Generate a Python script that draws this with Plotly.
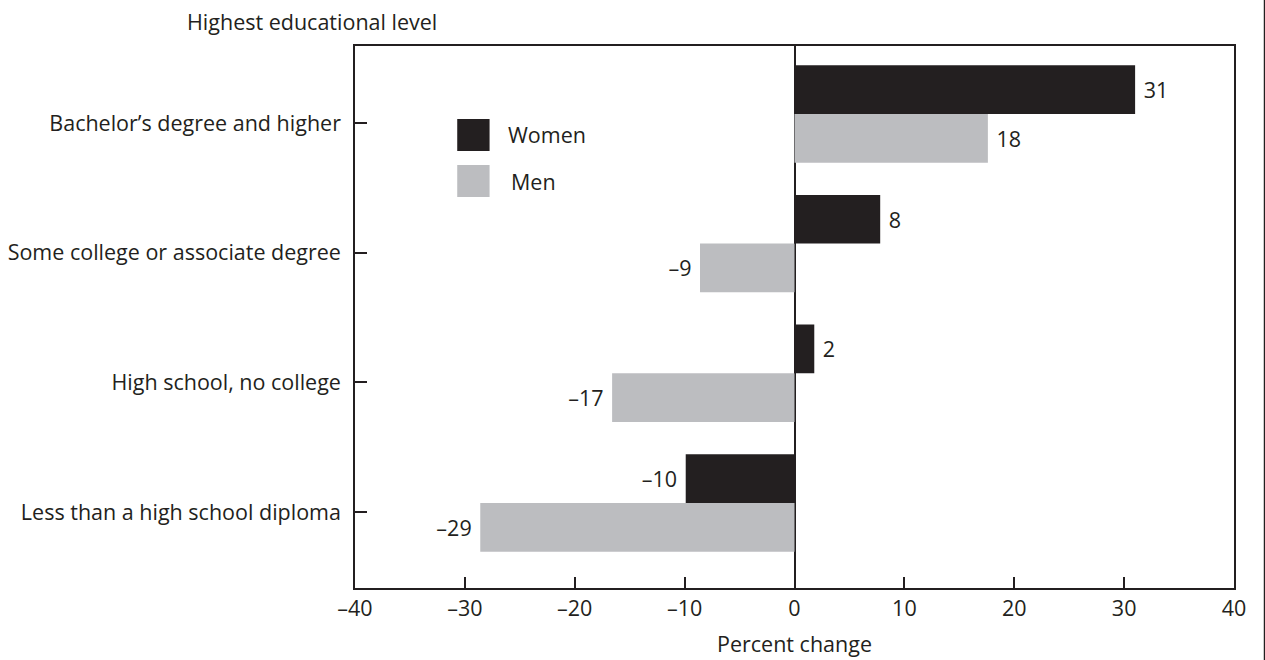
import plotly.graph_objects as go

# Data (bottom to top)
categories = ["Less than a high school diploma", "High school, no college",
              "Some college or associate degree", "Bachelor\u2019s degree and higher"]
women_values = [-9.9, 1.8, 7.8, 31.0]
men_values = [-28.6, -16.6, -8.6, 17.6]
women_labels = ["\u201310", "2", "8", "31"]
men_labels = ["\u201329", "\u201317", "\u20139", "18"]
x_ticks = [-40, -30, -20, -10, 0, 10, 20, 30, 40]
x_tick_labels = ["\u201340", "\u201330", "\u201320", "\u201310", "0", "10", "20", "30", "40"]

FONT = "Open Sans"
FS = 21.5
DARK = "#231f20"
GREY = "#bcbdc0"

positions = list(range(len(categories)))


def padded(labels, values):
    return [("\u00a0" + t) if v >= 0 else (t + "\u00a0") for t, v in zip(labels, values)]


fig = go.Figure()
fig.add_trace(go.Bar(
    y=positions, x=men_values, orientation="h", name="Men",
    marker=dict(color=GREY, line=dict(width=0)),
    text=padded(men_labels, men_values), textposition="outside", cliponaxis=False,
    outsidetextfont=dict(family=FONT, size=FS, color=DARK),
))
fig.add_trace(go.Bar(
    y=positions, x=women_values, orientation="h", name="Women",
    marker=dict(color=DARK, line=dict(width=0)),
    text=padded(women_labels, women_values), textposition="outside", cliponaxis=False,
    outsidetextfont=dict(family=FONT, size=FS, color=DARK),
))

fig.update_layout(
    width=1265, height=660,
    margin=dict(l=355, r=31, t=46, b=72, autoexpand=False),
    paper_bgcolor="white", plot_bgcolor="white",
    barmode="group", bargap=0.249, bargroupgap=0,
    showlegend=False,
    font=dict(family=FONT, size=FS, color=DARK),
    xaxis=dict(
        range=[-40, 40], tickvals=x_ticks, ticktext=x_tick_labels,
        ticks="inside", ticklen=11, tickwidth=1.5, tickcolor=DARK,
        showline=True, linecolor=DARK, linewidth=1.5, mirror=True,
        showgrid=False, zeroline=True, zerolinecolor=DARK, zerolinewidth=1.5,
        title=dict(text="Percent change", standoff=16, font=dict(size=FS)),
        tickfont=dict(size=FS), automargin=False,
    ),
    yaxis=dict(
        range=[-0.656, 3.524],
        tickvals=[p - 0.07 for p in positions], ticktext=categories,
        ticks="inside", ticklen=12, tickwidth=1.5, tickcolor=DARK,
        showline=True, linecolor=DARK, linewidth=1.5, mirror=True,
        showgrid=False, zeroline=False, ticklabelstandoff=8,
        tickfont=dict(size=FS), automargin=False,
    ),
)

# Title of y axis (top-left)
fig.add_annotation(text="Highest educational level", xref="paper", yref="paper",
                   x=-0.193, y=1.046, xanchor="left", yanchor="middle",
                   showarrow=False, font=dict(size=FS, color=DARK))

# Custom legend
legend_items = [("Women", DARK, 0.8653, 0.8063, 0.1713), ("Men", GREY, 0.7804, 0.7214, 0.1747)]
for name, color, y1, y0, tx in legend_items:
    fig.add_shape(type="rect", xref="paper", yref="paper", x0=0.1163, x1=0.1531,
                  y0=y0, y1=y1, fillcolor=color, line=dict(width=0))
    fig.add_annotation(text=name, xref="paper", yref="paper", x=tx, y=(y0 + y1) / 2,
                       xanchor="left", yanchor="middle", showarrow=False,
                       font=dict(size=FS, color=DARK))

# Right border line of the figure
fig.add_shape(type="line", xref="paper", yref="paper", x0=1.035, x1=1.035,
              y0=-0.14, y1=1.09, line=dict(color=DARK, width=2))

fig.write_html("out.html", config={"displayModeBar": False},
               post_script="document.body.style.margin='0';document.body.style.overflow='hidden';")
